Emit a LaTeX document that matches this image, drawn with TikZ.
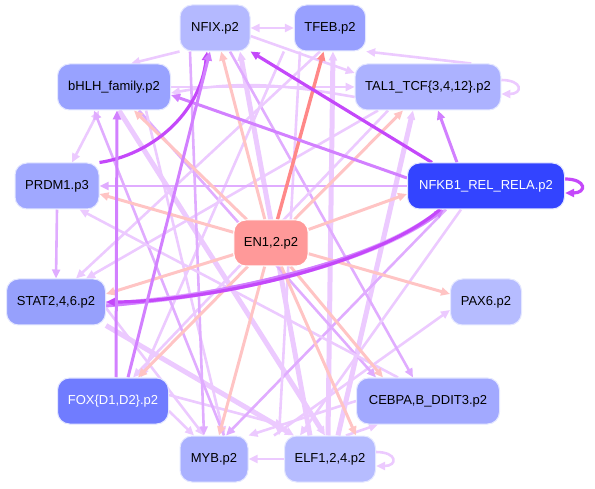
\documentclass[tikz,border=0pt]{standalone}
\usepackage{fontspec}
\setmainfont{Liberation Sans}
\usetikzlibrary{arrows.meta,backgrounds}
\definecolor{lav}{RGB}{236,202,255}
\definecolor{lavm}{RGB}{224,172,255}
\definecolor{pur}{RGB}{210,128,255}
\definecolor{strongp}{RGB}{196,72,250}
\definecolor{pnk}{RGB}{255,196,196}
\definecolor{redd}{RGB}{255,136,136}
\definecolor{cNFIX}{RGB}{180,185,255}
\definecolor{cTFEB}{RGB}{152,160,255}
\definecolor{cBHLH}{RGB}{152,162,255}
\definecolor{cTAL}{RGB}{172,178,255}
\definecolor{cPRDM}{RGB}{160,168,255}
\definecolor{cNFKB}{RGB}{51,68,255}
\definecolor{cEN}{RGB}{255,153,153}
\definecolor{cSTAT}{RGB}{150,160,252}
\definecolor{cPAX}{RGB}{182,188,255}
\definecolor{cFOX}{RGB}{112,124,255}
\definecolor{cCEB}{RGB}{162,169,255}
\definecolor{cMYB}{RGB}{170,177,255}
\definecolor{cELF}{RGB}{182,188,255}
\definecolor{rim}{RGB}{228,231,255}
\tikzset{
  gene/.style={rectangle, rounded corners=12pt, draw=rim, line width=1pt,
    minimum height=46pt, inner xsep=10pt, font=\fontsize{13}{15}\selectfont, text=black},
  tip/.style={-{Triangle[length=9pt,width=8pt]}},
  ltE/.style={tip, draw=lav, line width=2.6pt},
  ltT/.style={tip, draw=lav, line width=5pt},
  mdE/.style={tip, draw=lavm, line width=2.6pt},
  puE/.style={tip, draw=pur, line width=3pt},
  stE/.style={tip, draw=strongp, line width=3.2pt},
  pkE/.style={tip, draw=pnk, line width=3pt},
  rdE/.style={tip, draw=redd, line width=3.4pt},
}
\begin{document}
\begin{tikzpicture}[x=1pt,y=-1pt]
\useasboundingbox (0,0) rectangle (595,489);
\node[gene, fill=cNFIX, minimum width=70pt] (nfix) at (215,28) {NFIX.p2};
\node[gene, fill=cTFEB, minimum width=70pt] (tfeb) at (330,28) {TFEB.p2};
\node[gene, fill=cBHLH, minimum width=113pt] (bhlh) at (114,87) {bHLH\_family.p2};
\node[gene, fill=cTAL, minimum width=143pt] (tal) at (428,87) {TAL1\_TCF\{3,4,12\}.p2};
\node[gene, fill=cPRDM, minimum width=84pt] (prdm) at (57,186) {PRDM1.p3};
\node[gene, fill=cNFKB, minimum width=157pt, text=white] (nfkb) at (486,186) {NFKB1\_REL\_RELA.p2};
\node[gene, fill=cEN, draw=white, minimum width=74pt] (en) at (271,243) {EN1,2.p2};
\node[gene, fill=cSTAT, minimum width=99pt] (stat) at (56,302) {STAT2,4,6.p2};
\node[gene, fill=cPAX, minimum width=71pt] (pax) at (486,302) {PAX6.p2};
\node[gene, fill=cFOX, minimum width=111pt, text=white] (fox) at (113,401) {FOX\{D1,D2\}.p2};
\node[gene, fill=cCEB, minimum width=143pt] (ceb) at (428,401) {CEBPA,B\_DDIT3.p2};
\node[gene, fill=cMYB, minimum width=68pt] (myb) at (214,459) {MYB.p2};
\node[gene, fill=cELF, minimum width=91pt] (elf) at (330,459) {ELF1,2,4.p2};
\begin{scope}[on background layer]
% light edges
\draw[ltE, {Triangle[length=9pt,width=8pt]}-{Triangle[length=9pt,width=8pt]}] (nfix) -- (tfeb);
\draw[ltE] (nfix.south west) -- ([xshift=-40pt]bhlh.north east);
\draw[ltE] ([yshift=-8pt]nfix.east) -- ([yshift=14pt]tal.west);
\draw[ltE] ([xshift=-30pt]tal.north east) -- (tfeb.south east);
\draw[ltE] ([yshift=7pt]tal.east) to[out=0,in=0,looseness=4] ([yshift=-7pt]tal.east);
\draw[ltE] (bhlh.east) -- (tal.west);
\draw[ltE] ([yshift=-10pt]tal.west) to[out=170,in=10] ([yshift=-6pt]bhlh.east);
\draw[ltE, {Triangle[length=9pt,width=8pt]}-{Triangle[length=9pt,width=8pt]}] ([xshift=-15pt]bhlh.south) -- ([xshift=15pt]prdm.north);
\draw[ltT] ([xshift=-2pt]elf.north) -- ([xshift=3pt]tfeb.south);
\draw[ltT] ([xshift=-20pt]elf.north) -- ([xshift=25pt]nfix.south);
\draw[ltT] ([xshift=8pt]elf.north) -- ([xshift=-15pt]tal.south);
\draw[ltE] ([yshift=7pt]elf.east) to[out=0,in=0,looseness=4] ([yshift=-7pt]elf.east);
\draw[ltE] (elf.west) -- (myb.east);
\draw[ltE] ([xshift=-30pt]elf.north east) -- ([xshift=-50pt]ceb.south);
\draw[ltE] ([xshift=-10pt]elf.north west) -- ([yshift=-8pt]pax.west);
\draw[mdE] ([xshift=15pt]nfix.south) -- ([xshift=-15pt]ceb.north);
\draw[ltE] ([yshift=-10pt]fox.east) -- ([xshift=-20pt]myb.north);
\draw[ltE] ([yshift=6pt]fox.east) -- ([yshift=10pt]elf.north west);
\draw[ltT] (stat.south east) -- ([xshift=10pt]elf.north west);
\draw[ltE] ([yshift=-6pt]stat.east) -- ([xshift=-10pt]myb.north);
\draw[ltE] (ceb.west) -- (myb.north east);
\draw[ltT] ([xshift=5pt]bhlh.south) -- ([xshift=-5pt]elf.north);
\draw[mdE] ([xshift=25pt]bhlh.south) -- ([xshift=20pt]ceb.north west);
\draw[ltE] ([xshift=-25pt]bhlh.south east) -- ([xshift=10pt]myb.north);
\draw[ltE] ([xshift=-10pt]tfeb.south) -- ([xshift=20pt]stat.north);
\draw[ltE] ([xshift=-50pt]tal.south) -- ([xshift=30pt]stat.north);
\draw[ltE] ([xshift=-40pt]tal.south) -- ([xshift=20pt]fox.north);
\draw[ltE] ([xshift=-10pt]tfeb.south west) -- ([xshift=28pt]fox.north);
\draw[mdE] ([xshift=-40pt]nfkb.south) -- ([xshift=12pt]myb.north);
\draw[ltE] ([xshift=-25pt]nfkb.south) -- ([xshift=16pt]elf.north west);
\draw[mdE] ([xshift=-25pt]nfix.south) -- ([xshift=-10pt]myb.north);
\draw[mdE] ([xshift=10pt]myb.north) -- ([xshift=-20pt]bhlh.south);
\draw[ltE] ([xshift=-30pt]ceb.north) -- ([xshift=-20pt]prdm.south east);
\draw[ltE] ([xshift=-30pt]tfeb.south) -- ([xshift=-5pt]elf.north west);
% medium/purple edges
\draw[mdE] (nfkb.west) -- (prdm.east);
\draw[mdE] (prdm.south) -- (stat.north);
\draw[lavm, line width=5pt] ([yshift=-2pt]stat.east) .. controls (200,300) and (370,268) .. ([xshift=-44pt]nfkb.south);
% pink edges
\draw[pkE] (en) -- (nfix);
\draw[pkE] (en) -- ([xshift=20pt]bhlh.south);
\draw[pkE] (en) -- ([yshift=-8pt]prdm.east);
\draw[pkE] (en) -- ([yshift=8pt]stat.east);
\draw[pkE] (en) -- ([xshift=25pt]fox.north);
\draw[pkE] (en) -- ([xshift=5pt]myb.north);
\draw[pkE] (en) -- ([xshift=-20pt]elf.north east);
\draw[pkE] (en) -- ([xshift=-45pt]ceb.north);
\draw[pkE] (en) -- ([yshift=8pt]pax.west);
\draw[pkE] (en) -- ([yshift=-8pt]nfkb.west);
\draw[pkE] (en) -- ([xshift=-25pt]tal.south);
\draw[rdE] (en) -- (tfeb);
% strong purple edges
\draw[puE] ([xshift=50pt]nfkb.north west) -- ([xshift=10pt]tal.south);
\draw[puE] ([yshift=8pt]nfkb.west) -- ([yshift=-8pt]bhlh.east);
\draw[stE] ([xshift=25pt]nfkb.north west) -- (nfix.south east);
\draw[stE] ([yshift=7pt]nfkb.east) to[out=0,in=0,looseness=4] ([yshift=-7pt]nfkb.east);
\draw[puE] ([yshift=-4pt]stat.east) .. controls (200,298) and (368,265) .. ([xshift=-42pt]nfkb.south);
\draw[stE] ([xshift=-46pt]nfkb.south) .. controls (372,268) and (200,302) .. ([yshift=0pt]stat.east);
\draw[stE] (prdm.north east) .. controls (150,155) and (200,115) .. ([xshift=-8pt]nfix.south);
\draw[puE] ([xshift=15pt]fox.north) -- ([xshift=-5pt]nfix.south);
\draw[puE] ([xshift=3pt]fox.north) -- ([xshift=3pt]bhlh.south);
\end{scope}
\end{tikzpicture}
\end{document}
